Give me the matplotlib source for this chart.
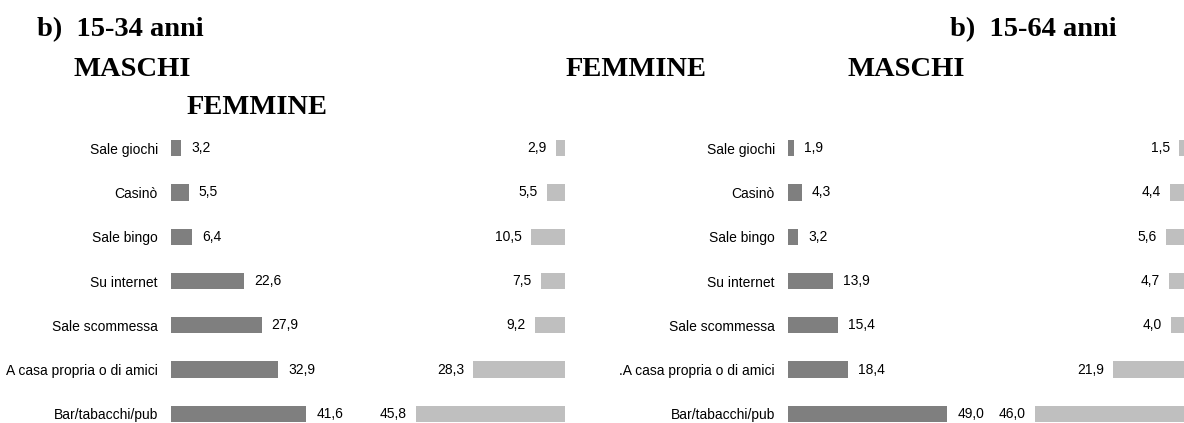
import matplotlib
matplotlib.use("Agg")
import matplotlib.pyplot as plt

categorie = ["Sale giochi", "Casinò", "Sale bingo", "Su internet",
             "Sale scommessa", "A casa propria o di amici", "Bar/tabacchi/pub"]
categorie_b = categorie[:5] + [".A casa propria o di amici", categorie[6]]
maschi_1534 = [3.2, 5.5, 6.4, 22.6, 27.9, 32.9, 41.6]
femmine_1534 = [2.9, 5.5, 10.5, 7.5, 9.2, 28.3, 45.8]
maschi_1564 = [1.9, 4.3, 3.2, 13.9, 15.4, 18.4, 49.0]
femmine_1564 = [1.5, 4.4, 5.6, 4.7, 4.0, 21.9, 46.0]

W, H = 1184, 423
GRIGIO_M = "#7f7f7f"
GRIGIO_F = "#bfbfbf"
SANS = ["Liberation Sans", "DejaVu Sans"]
SERIF = ["Liberation Serif", "DejaVu Serif"]
FS = 10

fig = plt.figure(figsize=(W / 100, H / 100), dpi=100)

PX_UNIT = 3.25   # pixel per punto percentuale
XMAX = 50
LARG = XMAX * PX_UNIT
Y_TOP, Y_BOT = 126, 436   # pixel, dall'alto


def asse(x0):
    return fig.add_axes([x0 / W, (H - Y_BOT) / H, LARG / W, (Y_BOT - Y_TOP) / H])


def fmt(v):
    return f"{v:.1f}".replace(".", ",")


def pannello(x_maschi, x_fine_femmine, cat, maschi, femmine):
    pos = range(len(cat))
    axm = asse(x_maschi)
    axm.barh(pos, maschi, height=0.37, color=GRIGIO_M)
    axm.set_xlim(0, XMAX)
    axm.set_ylim(6.5, -0.5)
    axm.set_yticks(list(pos))
    axm.set_yticklabels(cat, family=SANS, fontsize=FS)
    axm.tick_params(axis="y", length=0, pad=9.4)
    axm.set_xticks([])
    for i, v in enumerate(maschi):
        axm.annotate(fmt(v), (v, i), xytext=(7.2, 0), textcoords="offset points",
                     va="center", ha="left", family=SANS, fontsize=FS)

    axf = asse(x_fine_femmine - LARG)
    axf.barh(pos, femmine, height=0.37, color=GRIGIO_F)
    axf.set_xlim(XMAX, 0)
    axf.set_ylim(6.5, -0.5)
    axf.set_xticks([])
    axf.set_yticks([])
    for i, v in enumerate(femmine):
        axf.annotate(fmt(v), (v, i), xytext=(-6.5, 0), textcoords="offset points",
                     va="center", ha="right", family=SANS, fontsize=FS)

    for ax in (axm, axf):
        for s in ax.spines.values():
            s.set_visible(False)
        ax.patch.set_alpha(0)


pannello(171, 565, categorie, maschi_1534, femmine_1534)
pannello(788, 1184, categorie_b, maschi_1564, femmine_1564)


def titolo(x, y_base, s):
    fig.text(x / W, 1 - y_base / H, s, ha="left", va="baseline",
             family=SERIF, fontweight="bold", fontsize=20.5)


titolo(37, 36, "b)  15-34 anni")
titolo(950, 36, "b)  15-64 anni")
titolo(73, 76, "MASCHI")
titolo(566, 76, "FEMMINE")
titolo(847, 76, "MASCHI")
titolo(187, 114, "FEMMINE")

fig.savefig("out.png", dpi=100)
